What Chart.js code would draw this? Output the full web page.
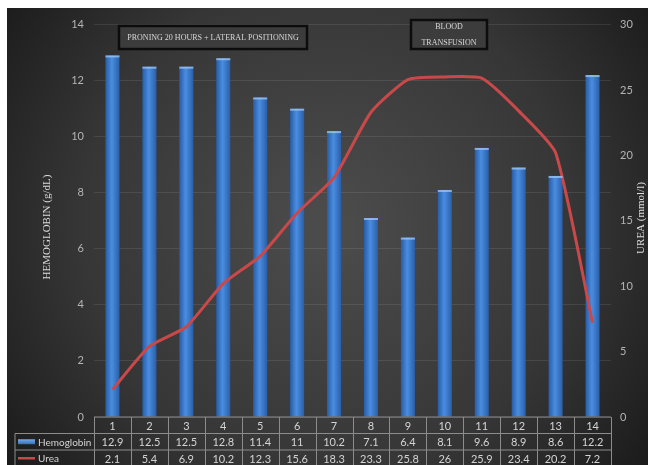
<!DOCTYPE html>
<html>
<head>
<meta charset="utf-8">
<script src="https://cdn.jsdelivr.net/npm/chart.js@4"></script>
<style>
  html, body { margin: 0; padding: 0; background: #fff; }
  #wrap { position: absolute; left: 7px; top: 8px; width: 641px; height: 457px; }
</style>
</head>
<body>
<div id="wrap"><canvas id="chart"></canvas></div>
<script>
// Days of observation
const days = ['1', '2', '3', '4', '5', '6', '7', '8', '9', '10', '11', '12', '13', '14'];

// Hemoglobin (g/dL) per day
const hemoglobin = [12.9, 12.5, 12.5, 12.8, 11.4, 11, 10.2, 7.1, 6.4, 8.1, 9.6, 8.9, 8.6, 12.2];

// Urea (mmol/l) per day
const urea = [2.1, 5.4, 6.9, 10.2, 12.3, 15.6, 18.3, 23.3, 25.8, 26, 25.9, 23.4, 20.2, 7.2];

// Axis ticks
const hbTicks = [0, 2, 4, 6, 8, 10, 12, 14];
const ureaTicks = [0, 5, 10, 15, 20, 25, 30];

const barBlue = '#3b7bd0';
const lineRed = '#c9494a';
const tickGray = '#b4b4b4';
const tableText = '#d4d4d4';

// dark radial background behind everything
const backgroundPlugin = {
  id: 'bg',
  beforeDraw(chart) {
    const { ctx, width, height } = chart;
    const g = ctx.createRadialGradient(width * 0.5, height * 0.48, 20, width * 0.5, height * 0.48, width * 0.62);
    g.addColorStop(0, '#4b4b4b');
    g.addColorStop(0.6, '#363636');
    g.addColorStop(1, '#1b1b1b');
    ctx.save();
    ctx.fillStyle = g;
    ctx.fillRect(0, 0, width, height);
    ctx.restore();
  }
};

// light cap on top of every bar
const barCapPlugin = {
  id: 'barCap',
  afterDatasetsDraw(chart) {
    const meta = chart.getDatasetMeta(1);
    const ctx = chart.ctx;
    ctx.save();
    meta.data.forEach(bar => {
      const w = bar.width;
      ctx.fillStyle = 'rgba(160,200,245,0.75)';
      ctx.fillRect(bar.x - w / 2, bar.y, w, 2);
    });
    ctx.restore();
  }
};

// axis titles, annotation boxes and the data table
const extrasPlugin = {
  id: 'extras',
  afterDraw(chart) {
    const { ctx, chartArea } = chart;
    const x = chart.scales.x;
    const step = x.getPixelForValue(1) - x.getPixelForValue(0);

    ctx.save();
    // axis titles
    ctx.fillStyle = '#dcdcdc';
    ctx.font = '11px "Liberation Serif"';
    ctx.textAlign = 'center';
    ctx.textBaseline = 'middle';
    ctx.save();
    ctx.translate(40, 219);
    ctx.rotate(-Math.PI / 2);
    ctx.fillText('HEMOGLOBIN (g/dL)', 0, 0);
    ctx.restore();
    ctx.save();
    ctx.translate(634, 210);
    ctx.rotate(-Math.PI / 2);
    ctx.fillText('UREA (mmol/l)', 0, 0);
    ctx.restore();

    // annotation boxes
    ctx.lineWidth = 2.5;
    ctx.strokeStyle = '#0c0c0c';
    ctx.fillStyle = '#3c3c3c';
    ctx.fillRect(112, 18, 188, 23);
    ctx.strokeRect(112, 18, 188, 23);
    ctx.fillRect(404, 12, 76, 29);
    ctx.strokeRect(404, 12, 76, 29);
    ctx.fillStyle = '#d8d8d8';
    ctx.font = '8px "Liberation Serif"';
    ctx.fillText('PRONING 20 HOURS + LATERAL POSITIONING', 206, 29.5);
    ctx.fillText('BLOOD', 442, 18.5);
    ctx.fillText('TRANSFUSION', 442, 35);

    // data table
    const top = chartArea.bottom;
    const rowH = 16.5;
    const left = chartArea.left;
    const right = chartArea.right;
    const legLeft = 8;
    ctx.strokeStyle = '#8c8c8c';
    ctx.lineWidth = 1;
    ctx.beginPath();
    ctx.moveTo(left, top); ctx.lineTo(right, top);
    ctx.moveTo(legLeft, top + rowH); ctx.lineTo(right, top + rowH);
    ctx.moveTo(legLeft, top + rowH * 2); ctx.lineTo(right, top + rowH * 2);
    ctx.moveTo(legLeft, top + rowH * 3); ctx.lineTo(right, top + rowH * 3);
    ctx.moveTo(legLeft, top + rowH); ctx.lineTo(legLeft, top + rowH * 3);
    for (let i = 0; i <= days.length; i++) {
      const px = Math.round(x.getPixelForValue(i) - step / 2) + 0.5;
      ctx.moveTo(px, top); ctx.lineTo(px, top + rowH * 3);
    }
    ctx.stroke();

    ctx.font = '11px Lato';
    ctx.fillStyle = tableText;
    ctx.textAlign = 'center';
    days.forEach((d, i) => {
      const px = x.getPixelForValue(i);
      ctx.fillText(d, px, top + rowH * 0.5 + 1);
      ctx.fillText(String(hemoglobin[i]), px, top + rowH * 1.5 + 1);
      ctx.fillText(String(urea[i]), px, top + rowH * 2.5 + 1);
    });

    // legend keys inside the table
    const kg = ctx.createLinearGradient(0, top + rowH * 1.5 - 3, 0, top + rowH * 1.5 + 3);
    kg.addColorStop(0, '#7fb0ea');
    kg.addColorStop(1, '#2f68b8');
    ctx.fillStyle = kg;
    ctx.fillRect(11, top + rowH * 1.5 - 2.5, 17, 5);
    ctx.strokeStyle = lineRed;
    ctx.lineWidth = 2.5;
    ctx.beginPath();
    ctx.moveTo(11, top + rowH * 2.5);
    ctx.lineTo(28, top + rowH * 2.5);
    ctx.stroke();
    ctx.fillStyle = tableText;
    ctx.textAlign = 'left';
    ctx.font = '10px Lato';
    ctx.fillText('Hemoglobin', 31, top + rowH * 1.5 + 1);
    ctx.fillText('Urea', 31, top + rowH * 2.5 + 1);
    ctx.restore();
  }
};

function barFill(context) {
  const chart = context.chart;
  if (!chart.chartArea) return barBlue;
  const cx = chart.scales.x.getPixelForValue(context.dataIndex);
  const g = chart.ctx.createLinearGradient(cx - 7, 0, cx + 7, 0);
  g.addColorStop(0, '#285ca6');
  g.addColorStop(0.45, '#4a8de0');
  g.addColorStop(1, '#2a5fa9');
  return g;
}

new Chart(document.getElementById('chart'), {
  data: {
    labels: days,
    datasets: [
      {
        type: 'line',
        label: 'Urea',
        data: urea,
        yAxisID: 'yUrea',
        borderColor: lineRed,
        borderWidth: 3,
        pointRadius: 0,
        tension: 0.18,
        order: 0
      },
      {
        type: 'bar',
        label: 'Hemoglobin',
        data: hemoglobin,
        yAxisID: 'yHb',
        backgroundColor: barFill,
        barPercentage: 0.38,
        categoryPercentage: 1,
        order: 1
      }
    ]
  },
  options: {
    responsive: true,
    maintainAspectRatio: false,
    animation: false,
    layout: { padding: { top: 12, bottom: 48, left: 0, right: 0 } },
    plugins: {
      legend: { display: false },
      tooltip: { enabled: false }
    },
    scales: {
      x: {
        display: false,
        offset: true
      },
      yHb: {
        position: 'left',
        min: 0,
        max: 14,
        afterBuildTicks(scale) { scale.ticks = hbTicks.map(v => ({ value: v })); },
        afterFit(scale) { scale.width = 87; },
        border: { display: false },
        grid: { color: 'rgba(255,255,255,0.09)', drawTicks: false },
        ticks: { color: tickGray, padding: 10, font: { family: 'Lato', size: 11 } }
      },
      yUrea: {
        position: 'right',
        min: 0,
        max: 30,
        afterBuildTicks(scale) { scale.ticks = ureaTicks.map(v => ({ value: v })); },
        afterFit(scale) { scale.width = 37; },
        border: { display: false },
        grid: { display: false, drawTicks: false },
        ticks: { color: tickGray, padding: 9, font: { family: 'Lato', size: 11 } }
      }
    }
  },
  plugins: [backgroundPlugin, barCapPlugin, extrasPlugin]
});
</script>
</body>
</html>
